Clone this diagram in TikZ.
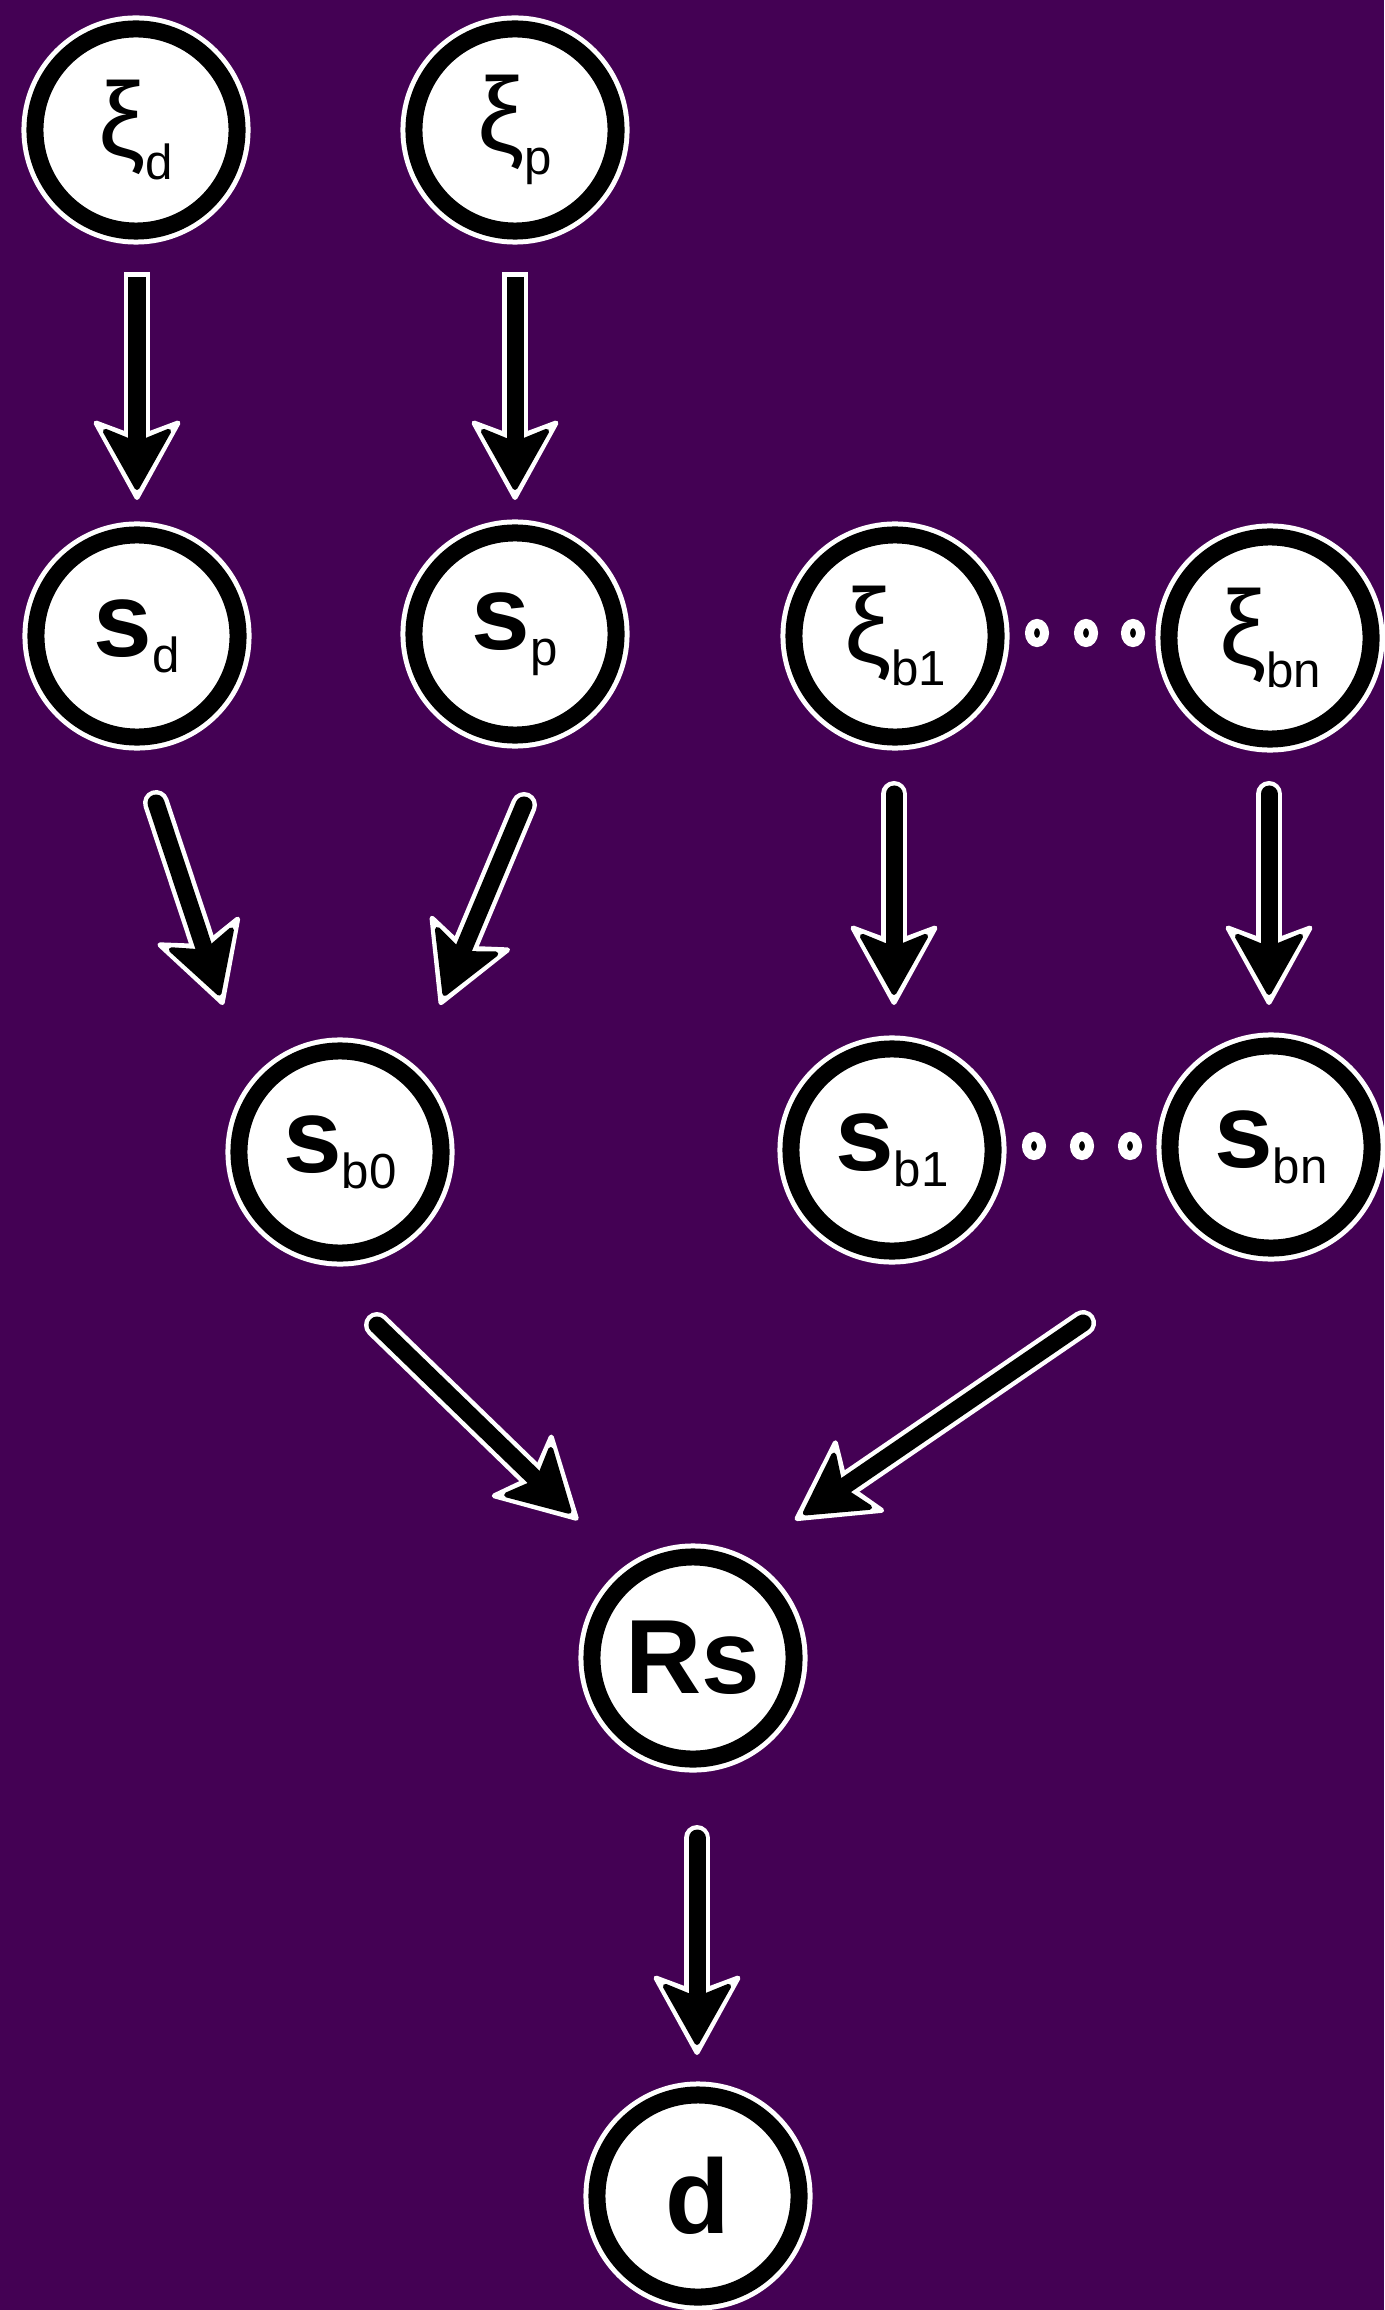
\documentclass[tikz,border=0pt]{standalone}
\usepackage{fontspec}
\setmainfont{Liberation Sans}
\usetikzlibrary{arrows.meta,shapes.geometric}
\definecolor{bgc}{HTML}{440154}
\newcommand\mysub[2][-4.5pt]{\raisebox{#1}{\fontsize{14}{14}\selectfont #2}}
\newcommand\fatarrow[3][]{\draw[arrw,#1] #2 -- #3; \draw[arrb,#1] #2 -- #3;}
\begin{document}
\begin{tikzpicture}[x=0.01cm, y=-0.01cm,
  nd/.style={circle, fill=white, draw=black, line width=0.17cm, minimum size=2.02cm,
    inner sep=0pt, preaction={draw=white, line width=0.27cm},
    font=\fontsize{30}{36}\selectfont},
  arrw/.style={draw=white, line width=0.26cm, line cap=round,
    -{Stealth[length=0.84cm, width=0.92cm, inset=0.17cm, round, line width=0.05cm]}},
  arrb/.style={draw=black, line width=0.17cm, line cap=round, shorten >=0.1cm,
    -{Stealth[length=0.66cm, width=0.74cm, inset=0.15cm, round, line width=0.05cm]}},
  dotn/.style={ellipse, fill=black, draw=white, line width=0.09cm,
    minimum width=0.15cm, minimum height=0.19cm, inner sep=0pt}
]
\fill[bgc] (0,0) rectangle (1384,2310);
\useasboundingbox (0,0) rectangle (1384,2310);

% nodes
\node[nd] (xid)  at (136,130)  {ξ\mysub[-6.5pt]{d}};
\node[nd] (xip)  at (515,130)  {ξ\mysub[-6.5pt]{p}};
\node[nd] (sd)   at (137,636)  {\textbf{s}\mysub{d}};
\node[nd] (sp)   at (515,634)  {\textbf{s}\mysub{p}};
\node[nd] (xib1) at (895,636)  {ξ\mysub[-6.5pt]{b1}};
\node[nd] (xibn) at (1270,638) {ξ\mysub[-6.5pt]{bn}};
\node[nd] (sb0)  at (340,1152) {\textbf{s}\mysub{b0}};
\node[nd] (sb1)  at (892,1150) {\textbf{s}\mysub{b1}};
\node[nd] (sbn)  at (1271,1147) {\textbf{s}\mysub{bn}};
\node[nd] (Rs)   at (693,1658) {\textbf{Rs}};
\node[nd] (d)    at (698,2196) {\textbf{d}};

% ellipsis dots
\node[dotn] (t1) at (1037,633) {};
\node[dotn] (t2) at (1086,633) {};
\node[dotn] (t3) at (1133,633) {};
\node[dotn] (b1) at (1034,1146) {};
\node[dotn] (b2) at (1082,1146) {};
\node[dotn] (b3) at (1130,1146) {};

% arrows with square tails
\draw[arrw, line cap=butt] ([shift={(1,142)}]xid.center) -- ([shift={(0,-136)}]sd.center);
\draw[arrb, line cap=butt, shorten <=0.05cm] ([shift={(1,142)}]xid.center) -- ([shift={(0,-136)}]sd.center);
\draw[arrw, line cap=butt] ([shift={(0,142)}]xip.center) -- ([shift={(0,-134)}]sp.center);
\draw[arrb, line cap=butt, shorten <=0.05cm] ([shift={(0,142)}]xip.center) -- ([shift={(0,-134)}]sp.center);

% arrows with round tails
\fatarrow{([shift={(19,167)}]sd.center)}{([shift={(-117,-147)}]sb0.center)}
\fatarrow{([shift={(9,171)}]sp.center)}{([shift={(100,-147)}]sb0.center)}
\fatarrow{([shift={(-1,158)}]xib1.center)}{([shift={(2,-145)}]sb1.center)}
\fatarrow{([shift={(-1,156)}]xibn.center)}{([shift={(-2,-142)}]sbn.center)}
\fatarrow{([shift={(37,173)}]sb0.center)}{([shift={(-115,-138)}]Rs.center)}
\fatarrow{([shift={(-188,176)}]sbn.center)}{([shift={(102,-138)}]Rs.center)}
\fatarrow{([shift={(4,180)}]Rs.center)}{([shift={(-1,-141)}]d.center)}
\end{tikzpicture}
\end{document}
